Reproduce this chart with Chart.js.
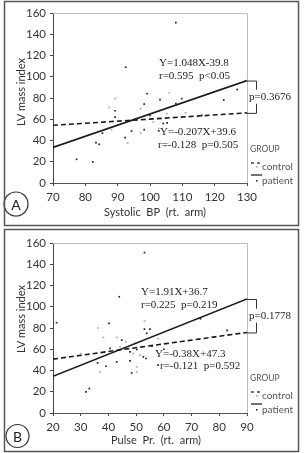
<!DOCTYPE html>
<html><head><meta charset="utf-8">
<script src="https://cdn.jsdelivr.net/npm/chart.js@4.4.1/dist/chart.umd.min.js"></script>
<style>
html,body{margin:0;padding:0;background:#fff;width:304px;height:453px;overflow:hidden}
.p{position:absolute;left:0;width:304px}
canvas{display:block}
</style></head><body>
<div class="p" style="top:0;height:227px"><canvas id="ca" width="304" height="227"></canvas></div>
<div class="p" style="top:227px;height:226px"><canvas id="cb" width="304" height="226"></canvas></div>
<script>
// ---------- DATA ----------
const yTicks = [0, 20, 40, 60, 80, 100, 120, 140, 160];
const xTicksA = [70, 80, 90, 100, 110, 120, 130];
const xTicksB = [20, 30, 40, 50, 60, 70, 80, 90];

// Panel A : Systolic BP vs LV mass index
const patientA_bp   = [77.3, 82.3, 83.3, 84.3, 85.3, 89.2, 89.2, 92.3, 94.3, 98.2, 92.5, 98.2, 99.1, 103.1, 100, 104.1, 108, 109.8, 108, 122.8, 127, 116, 102.7, 105.3];
const patientA_lvmi = [22.3, 19.8, 38, 36.4, 47, 68, 62, 42.7, 48.9, 50.2, 109, 74.3, 84, 78.5, 63.7, 56, 151, 79.4, 74.7, 78, 88, 63.7, 49, 56.5];
const controlA_bp   = [89.3, 87.4, 97.1, 88.1, 93.1, 97.1, 101, 105.2, 106, 111, 102.7, 104.8];
const controlA_lvmi = [79.4, 71, 70, 50.2, 37.6, 47, 57.4, 65.3, 85, 66, 51.2, 35];
const fitA_x        = [70, 130];
const fitPatientA_y = [33.5, 96.4];
const fitControlA_y = [54.3, 66.0];
const notesA = ["Y=1.048X-39.8", "r=0.595  p<0.05", "Y=-0.207X+39.6", "r=-0.128  p=0.505", "p=0.3676"];

// Panel B : Pulse pressure vs LV mass index
const patientB_pp   = [21.3, 53, 43.9, 40.2, 53, 55, 53.8, 36.1, 39.1, 31.9, 33.1, 40.6, 43, 44.8, 48.4, 50.2, 47.8, 47.8, 52.6, 53.6, 57.9, 55.7, 73.2, 82.8, 60];
const patientB_lvmi = [85, 151, 109.4, 84.3, 79, 79, 75, 47.2, 44, 19.8, 23, 60.8, 48.1, 68.6, 37.7, 59.8, 49, 57.5, 52.8, 51.3, 45, 63, 88.7, 77.7, 60];
const controlB_pp   = [36.3, 53, 38.2, 43, 30.1, 37, 44.2, 46.3, 50.2, 50.2, 49, 51.4, 49.6, 58];
const controlB_lvmi = [80, 86.5, 71.1, 71.1, 56, 38.7, 62.3, 67, 38.7, 43.4, 56, 54.4, 65.5, 70];
const fitB_x        = [20, 90];
const fitPatientB_y = [34.6, 107.3];
const fitControlB_y = [50.7, 75.8];
const notesB = ["Y=1.91X+36.7", "r=0.225  p=0.219", "Y=-0.38X+47.3", "r=-0.121  p=0.592", "p=0.1778"];

const yTitle = "LV mass index";
const xTitleA = "Systolic  BP  (rt.  arm)";
const xTitleB = "Pulse  Pr.  (rt.  arm)";
const legendLabels = ["GROUP", "control", "patient"];
const panelLetters = ["A", "B"];

// ---------- HELPERS ----------
const pts = (xs, ys) => xs.map((x, i) => ({x: x, y: ys[i]}));
Chart.defaults.font.family = 'Lato, "Open Sans", sans-serif';
Chart.defaults.color = '#333';

const deco = {
  id: 'deco',
  afterDraw(chart, args, o) {
    const ctx = chart.ctx, ys = chart.scales.y, ca = chart.chartArea;
    ctx.save();
    // plot frame (top/right light lines)
    ctx.strokeStyle = '#bdbdbd'; ctx.lineWidth = 1;
    ctx.beginPath();
    ctx.moveTo(ca.left, Math.round(ca.top) + 0.5);
    ctx.lineTo(Math.round(ca.right) + 0.5, Math.round(ca.top) + 0.5);
    ctx.lineTo(Math.round(ca.right) + 0.5, ca.bottom);
    ctx.stroke();
    // annotations
    ctx.fillStyle = '#222'; ctx.font = '11px "Liberation Serif", serif';
    ctx.textBaseline = 'middle'; ctx.textAlign = 'left';
    o.notes.forEach((n, i) => { if (i < 4) ctx.fillText(n, o.notePos[i][0], o.notePos[i][1]); });
    // bracket
    const yT = ys.getPixelForValue(o.fitTop), yB = ys.getPixelForValue(o.fitBot);
    const bx = o.bx, ty = (yT + yB) / 2 + o.pdy;
    ctx.strokeStyle = '#333'; ctx.lineWidth = 1;
    ctx.beginPath();
    ctx.moveTo(ca.right, yT + 0.5); ctx.lineTo(bx + 0.5, yT + 0.5); ctx.lineTo(bx + 0.5, ty - 7);
    ctx.moveTo(bx + 0.5, ty + 7); ctx.lineTo(bx + 0.5, yB + 0.5); ctx.lineTo(ca.right, yB + 0.5);
    ctx.stroke();
    ctx.fillText(o.notes[4], o.px, ty);
    // legend
    const L = o.leg;
    ctx.fillStyle = '#555'; ctx.font = '8.5px Lato, sans-serif';
    ctx.fillText(legendLabels[0], L.x, L.y);
    ctx.strokeStyle = '#444'; ctx.lineWidth = 1.3;
    ctx.beginPath();
    ctx.moveTo(L.x + 1, L.y + 14); ctx.lineTo(L.x + 4, L.y + 14);
    ctx.moveTo(L.x + 7, L.y + 14); ctx.lineTo(L.x + 10, L.y + 14);
    ctx.moveTo(L.x + 1, L.y + 26); ctx.lineTo(L.x + 12, L.y + 26);
    ctx.stroke();
    ctx.fillStyle = '#aaa'; ctx.fillRect(L.x + 6, L.y + 17, 1.6, 1.6);
    ctx.fillStyle = '#333'; ctx.fillRect(L.x + 6, L.y + 31, 1.6, 1.6);
    ctx.fillStyle = '#555'; ctx.font = '10px Lato, sans-serif';
    ctx.fillText(legendLabels[1], L.x + 12, L.y + 18);
    ctx.fillText(legendLabels[2], L.x + 12, L.y + 32);
    // axis titles
    ctx.fillStyle = '#333'; ctx.font = '11px Lato, sans-serif';
    ctx.textAlign = 'center';
    ctx.fillText(o.xTitle, o.xt[0], o.xt[1]);
    ctx.save();
    ctx.translate(o.yt[0], o.yt[1]); ctx.rotate(-Math.PI / 2);
    ctx.fillText(yTitle, 0, 0);
    ctx.restore();
    // circled letter
    ctx.strokeStyle = '#333'; ctx.lineWidth = 1.2;
    ctx.beginPath(); ctx.arc(o.circ[0], o.circ[1], o.circ[2], 0, Math.PI * 2); ctx.stroke();
    ctx.fillStyle = '#222'; ctx.font = '14px Lato, sans-serif';
    ctx.fillText(o.letter, o.circ[0], o.circ[1] + 1);
    // panel border
    ctx.strokeStyle = '#555'; ctx.lineWidth = 1.5;
    ctx.strokeRect(o.box[0], o.box[1], o.box[2], o.box[3]);
    ctx.restore();
  }
};

function makeChart(id, H, area, xr, xTicks, P, C, fitX, fitP, fitC, notes, deco_o) {
  const cfg = {
    type: 'scatter',
    data: {
      datasets: [
        {label: 'patient fit', type: 'line', data: pts(fitX, fitP), borderColor: '#1a1a1a', borderWidth: 1.6, pointRadius: 0, fill: false, tension: 0},
        {label: 'control fit', type: 'line', data: pts(fitX, fitC), borderColor: '#1a1a1a', borderWidth: 1.6, borderDash: [5, 3], pointRadius: 0, fill: false, tension: 0},
        {label: 'patient', data: P, pointStyle: 'rect', pointRadius: 1.2, backgroundColor: '#222', borderWidth: 0},
        {label: 'control', data: C, pointStyle: 'rect', pointRadius: 1.2, backgroundColor: '#a8a8a8', borderWidth: 0}
      ]
    },
    options: {
      responsive: false, devicePixelRatio: 1, animation: false,
      layout: {padding: {left: 0, top: area.top, right: 304 - area.right, bottom: 0}},
      plugins: {legend: {display: false}, tooltip: {enabled: false}, deco: deco_o},
      scales: {
        x: {type: 'linear', min: xr[0], max: xr[1],
            afterBuildTicks: s => { s.ticks = xTicks.map(v => ({value: v})); },
            afterFit: s => { s.height = H - area.bottom; },
            grid: {drawOnChartArea: false, tickLength: 3, color: '#444'},
            border: {color: '#555', width: 1},
            ticks: {padding: 4, font: {size: 11.5}, color: '#333', maxRotation: 0}},
        y: {type: 'linear', min: 0, max: 160,
            afterBuildTicks: s => { s.ticks = yTicks.map(v => ({value: v})); },
            afterFit: s => { s.width = area.left; },
            grid: {drawOnChartArea: false, tickLength: 3, color: '#444'},
            border: {color: '#444', width: 1},
            ticks: {padding: 4, font: {size: 11.5}, color: '#333'}}
      }
    },
    plugins: [deco]
  };
  const ch = new Chart(document.getElementById(id), cfg);
  // correct layout so plot area lands on target box
  for (let k = 0; k < 2; k++) {
    const c = ch.chartArea, p = ch.options.layout.padding;
    p.top += area.top - c.top;
    p.right += c.right - area.right;
    ch.update('none');
  }
  return ch;
}

makeChart('ca', 227, {left: 53, right: 247, top: 13, bottom: 183}, [70, 130], xTicksA,
  pts(patientA_bp, patientA_lvmi), pts(controlA_bp, controlA_lvmi), fitA_x, fitPatientA_y, fitControlA_y, notesA,
  {notes: notesA, notePos: [[159, 63], [159, 76], [160, 132], [158, 145]],
   fitTop: fitPatientA_y[1], fitBot: fitControlA_y[1], bx: 256, px: 249, pdy: 0,
   leg: {x: 250, y: 149}, xTitle: xTitleA, xt: [155, 212], yt: [21, 92],
   circ: [16, 204, 12], letter: panelLetters[0], box: [4.5, 1.5, 294, 224]});

makeChart('cb', 226, {left: 53, right: 247, top: 16, bottom: 186}, [20, 90], xTicksB,
  pts(patientB_pp, patientB_lvmi), pts(controlB_pp, controlB_lvmi), fitB_x, fitPatientB_y, fitControlB_y, notesB,
  {notes: notesB, notePos: [[141, 65], [141, 78], [155, 127], [160, 139]],
   fitTop: fitPatientB_y[1], fitBot: fitControlB_y[1], bx: 256, px: 249, pdy: 0,
   leg: {x: 250, y: 151}, xTitle: xTitleB, xt: [156, 213], yt: [21, 92],
   circ: [17.5, 209, 11.5], letter: panelLetters[1], box: [4.5, 2.5, 294, 222]});
</script>
</body></html>
